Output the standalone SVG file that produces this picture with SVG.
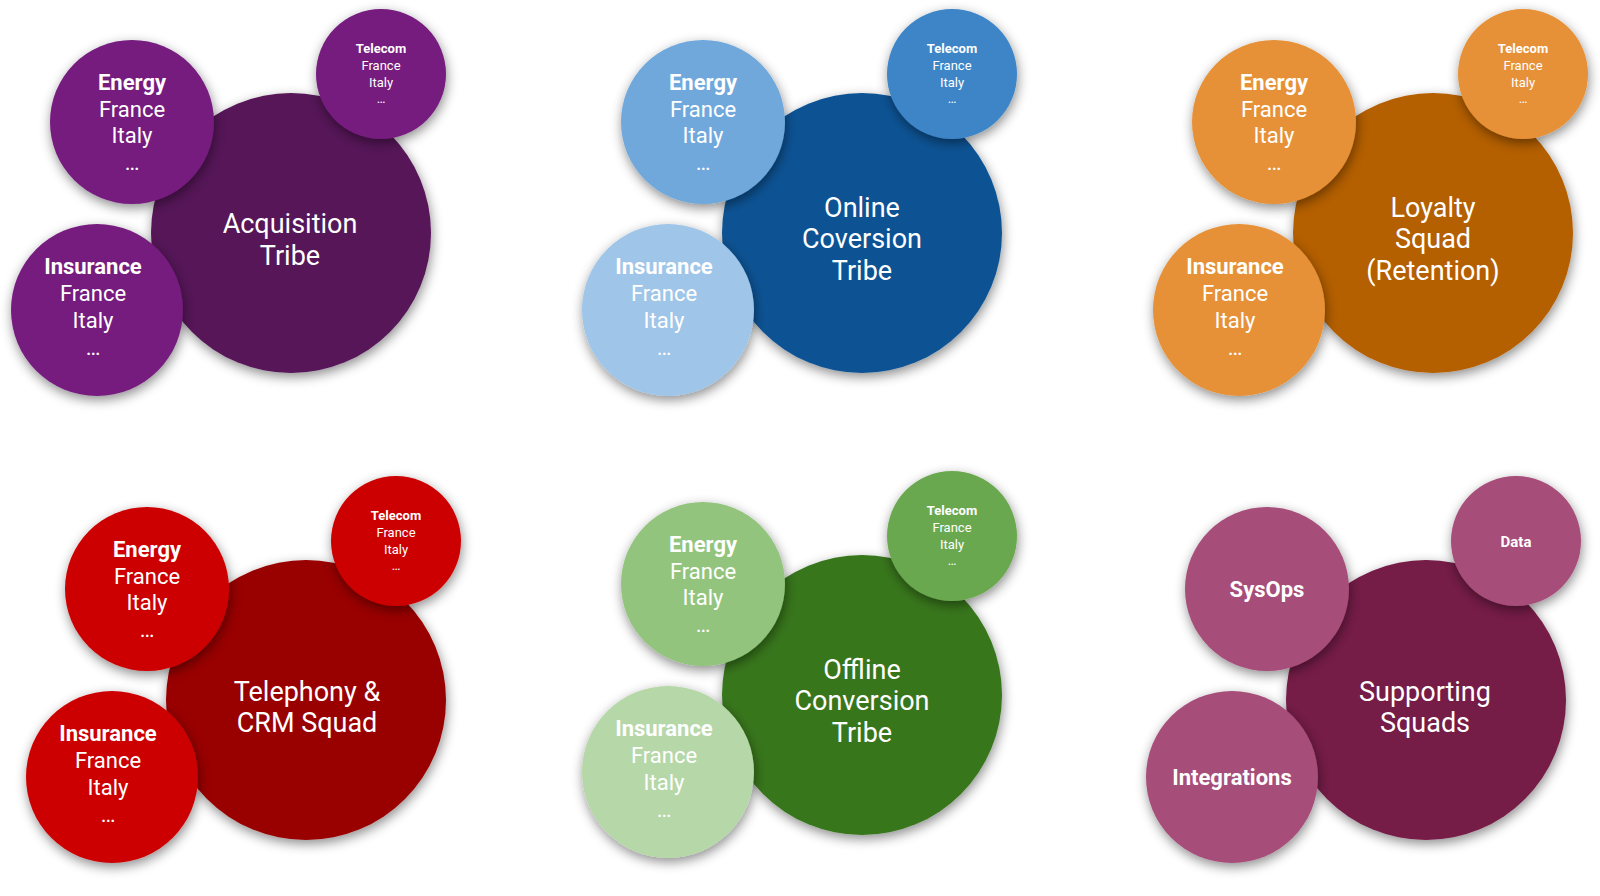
<svg xmlns="http://www.w3.org/2000/svg" width="1600" height="896" viewBox="0 0 1600 896">
<defs>
<filter id="sh" x="-30%" y="-30%" width="160%" height="170%">
<feDropShadow dx="1" dy="4" stdDeviation="6" flood-color="#000" flood-opacity="0.45"/>
</filter>
</defs>
<style>
circle{filter:url(#sh)}
text{font-family:Roboto,"Liberation Sans",sans-serif;fill:#fff;text-anchor:middle}
.big{font-size:27px}
.mid{font-size:22px}
.sm{font-size:13px}
.b{font-weight:700}
.p1{fill:#561459}.p2{fill:#741c7e}
.o1{fill:#0b5394}.o2{fill:#3d85c6}.o3{fill:#6fa8dc}.o4{fill:#9fc5e8}
.l1{fill:#b45f06}.l2{fill:#e69138}
.r1{fill:#990000}.r2{fill:#cc0000}
.g1{fill:#38761d}.g2{fill:#6aa84f}.g3{fill:#93c47d}.g4{fill:#b6d7a8}
.m1{fill:#741b47}.m2{fill:#a64d79}
</style>
<rect width="1600" height="896" fill="#fff"/>

<!-- Cluster 1: Acquisition -->
<g id="acquisition" transform="translate(0,0)">
<g id="acquisition-tribe"><circle class="p1" cx="291" cy="233" r="140"/>
<text class="big" x="290" y="233">Acquisition</text><text class="big" x="290" y="265">Tribe</text></g>
<g id="acquisition-telecom"><circle class="p2" cx="381" cy="74" r="65"/>
<text class="sm b" x="381" y="53">Telecom</text><text class="sm" x="381" y="70">France</text><text class="sm" x="381" y="87">Italy</text><text class="sm" x="381" y="103">…</text></g>
<g id="acquisition-energy"><circle class="p2" cx="132" cy="122" r="82"/>
<text class="mid b" x="132" y="90">Energy</text><text class="mid" x="132" y="117">France</text><text class="mid" x="132" y="143">Italy</text><text class="mid" x="132" y="170">…</text></g>
<g id="acquisition-insurance"><circle class="p2" cx="97" cy="310" r="86"/>
<text class="mid b" x="93" y="274">Insurance</text><text class="mid" x="93" y="301">France</text><text class="mid" x="93" y="328">Italy</text><text class="mid" x="93" y="355">…</text></g>
</g>

<!-- Cluster 2: Online -->
<g id="online" transform="translate(571,0)">
<g id="online-tribe"><circle class="o1" cx="291" cy="233" r="140"/>
<text class="big" x="291" y="217">Online</text><text class="big" x="291" y="248">Coversion</text><text class="big" x="291" y="280">Tribe</text></g>
<g id="online-telecom"><circle class="o2" cx="381" cy="74" r="65"/>
<text class="sm b" x="381" y="53">Telecom</text><text class="sm" x="381" y="70">France</text><text class="sm" x="381" y="87">Italy</text><text class="sm" x="381" y="103">…</text></g>
<g id="online-energy"><circle class="o3" cx="132" cy="122" r="82"/>
<text class="mid b" x="132" y="90">Energy</text><text class="mid" x="132" y="117">France</text><text class="mid" x="132" y="143">Italy</text><text class="mid" x="132" y="170">…</text></g>
<g id="online-insurance"><circle class="o4" cx="97" cy="310" r="86"/>
<text class="mid b" x="93" y="274">Insurance</text><text class="mid" x="93" y="301">France</text><text class="mid" x="93" y="328">Italy</text><text class="mid" x="93" y="355">…</text></g>
</g>

<!-- Cluster 3: Loyalty -->
<g id="loyalty" transform="translate(1142,0)">
<g id="loyalty-squad"><circle class="l1" cx="291" cy="233" r="140"/>
<text class="big" x="291" y="217">Loyalty</text><text class="big" x="291" y="248">Squad</text><text class="big" x="291" y="280">(Retention)</text></g>
<g id="loyalty-telecom"><circle class="l2" cx="381" cy="74" r="65"/>
<text class="sm b" x="381" y="53">Telecom</text><text class="sm" x="381" y="70">France</text><text class="sm" x="381" y="87">Italy</text><text class="sm" x="381" y="103">…</text></g>
<g id="loyalty-energy"><circle class="l2" cx="132" cy="122" r="82"/>
<text class="mid b" x="132" y="90">Energy</text><text class="mid" x="132" y="117">France</text><text class="mid" x="132" y="143">Italy</text><text class="mid" x="132" y="170">…</text></g>
<g id="loyalty-insurance"><circle class="l2" cx="97" cy="310" r="86"/>
<text class="mid b" x="93" y="274">Insurance</text><text class="mid" x="93" y="301">France</text><text class="mid" x="93" y="328">Italy</text><text class="mid" x="93" y="355">…</text></g>
</g>

<!-- Cluster 4: Telephony -->
<g id="telephony" transform="translate(15,467)">
<g id="telephony-squad"><circle class="r1" cx="291" cy="233" r="140"/>
<text class="big" x="292" y="234">Telephony &amp;</text><text class="big" x="292" y="265">CRM Squad</text></g>
<g id="telephony-telecom"><circle class="r2" cx="381" cy="74" r="65"/>
<text class="sm b" x="381" y="53">Telecom</text><text class="sm" x="381" y="70">France</text><text class="sm" x="381" y="87">Italy</text><text class="sm" x="381" y="103">…</text></g>
<g id="telephony-energy"><circle class="r2" cx="132" cy="122" r="82"/>
<text class="mid b" x="132" y="90">Energy</text><text class="mid" x="132" y="117">France</text><text class="mid" x="132" y="143">Italy</text><text class="mid" x="132" y="170">…</text></g>
<g id="telephony-insurance"><circle class="r2" cx="97" cy="310" r="86"/>
<text class="mid b" x="93" y="274">Insurance</text><text class="mid" x="93" y="301">France</text><text class="mid" x="93" y="328">Italy</text><text class="mid" x="93" y="355">…</text></g>
</g>

<!-- Cluster 5: Offline -->
<g id="offline" transform="translate(571,462)">
<g id="offline-tribe"><circle class="g1" cx="291" cy="233" r="140"/>
<text class="big" x="291" y="217">Offline</text><text class="big" x="291" y="248">Conversion</text><text class="big" x="291" y="280">Tribe</text></g>
<g id="offline-telecom"><circle class="g2" cx="381" cy="74" r="65"/>
<text class="sm b" x="381" y="53">Telecom</text><text class="sm" x="381" y="70">France</text><text class="sm" x="381" y="87">Italy</text><text class="sm" x="381" y="103">…</text></g>
<g id="offline-energy"><circle class="g3" cx="132" cy="122" r="82"/>
<text class="mid b" x="132" y="90">Energy</text><text class="mid" x="132" y="117">France</text><text class="mid" x="132" y="143">Italy</text><text class="mid" x="132" y="170">…</text></g>
<g id="offline-insurance"><circle class="g4" cx="97" cy="310" r="86"/>
<text class="mid b" x="93" y="274">Insurance</text><text class="mid" x="93" y="301">France</text><text class="mid" x="93" y="328">Italy</text><text class="mid" x="93" y="355">…</text></g>
</g>

<!-- Cluster 6: Supporting -->
<g id="supporting" transform="translate(1135,467)">
<g id="supporting-squads"><circle class="m1" cx="291" cy="233" r="140"/>
<text class="big" x="290" y="234">Supporting</text><text class="big" x="290" y="265">Squads</text></g>
<g id="supporting-data"><circle class="m2" cx="381" cy="74" r="65"/>
<text class="b" style="font-size:15px" x="381" y="80">Data</text></g>
<g id="supporting-sysops"><circle class="m2" cx="132" cy="122" r="82"/>
<text class="mid b" x="132" y="130">SysOps</text></g>
<g id="supporting-integrations"><circle class="m2" cx="97" cy="310" r="86"/>
<text class="mid b" x="97" y="318">Integrations</text></g>
</g>
</svg>
